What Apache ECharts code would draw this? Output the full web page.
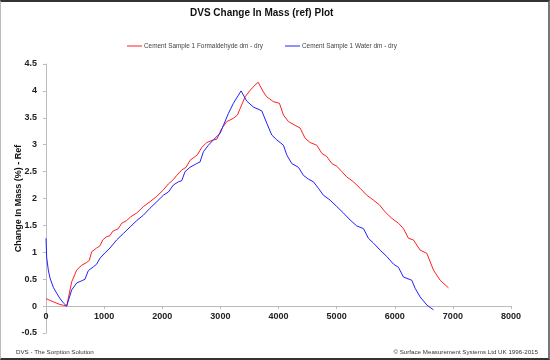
<!DOCTYPE html>
<html><head><meta charset="utf-8">
<script src="https://cdn.jsdelivr.net/npm/echarts@6/dist/echarts.min.js"></script>
<style>
html,body{margin:0;padding:0;background:#fff;}
#frame{position:absolute;left:0;top:0;width:550px;height:360px;box-sizing:border-box;border-top:2px solid #333;border-bottom:2px solid #333;border-left:1px solid #bbb;border-right:2px solid #777;}
#c{position:absolute;left:0;top:0;width:550px;height:360px;}
</style></head>
<body>
<div id="c"></div><div id="frame"></div>
<script>
const xTicks = [0,1000,2000,3000,4000,5000,6000,7000,8000];
const yTicks = [-0.5,0,0.5,1,1.5,2,2.5,3,3.5,4,4.5];
const seriesNames = ['Cement Sample 1 Formaldehyde dm - dry','Cement Sample 1 Water dm - dry'];

const formTime = [0,60,126,241,300,356,442,528,614,700,745,786,872,929,975,1044,1101,1147,1245,1302,1388,1457,1561,1675,1790,1905,2019,2105,2191,2249,2335,2410,2478,2564,2604,2680,2766,2880,2938,3024,3110,3224,3293,3339,3425,3511,3597,3650,3740,3798,3912,4016,4085,4171,4286,4372,4458,4544,4659,4745,4831,4917,5003,5089,5175,5290,5404,5519,5634,5737,5835,5950,6064,6150,6236,6322,6437,6552,6580,6666,6781,6924];
const formMass = [0.14,0.11,0.08,0.03,0.015,0,0.45,0.67,0.76,0.81,0.85,1.01,1.08,1.12,1.23,1.29,1.31,1.39,1.44,1.54,1.59,1.66,1.73,1.85,1.94,2.04,2.16,2.27,2.35,2.43,2.53,2.58,2.71,2.78,2.81,2.95,3.04,3.09,3.10,3.30,3.43,3.49,3.55,3.67,3.89,4.01,4.11,4.16,3.98,3.89,3.80,3.77,3.55,3.43,3.36,3.31,3.12,3.04,2.99,2.84,2.78,2.65,2.60,2.50,2.40,2.31,2.19,2.06,1.97,1.88,1.75,1.63,1.54,1.44,1.26,1.23,1.04,0.98,0.95,0.67,0.48,0.34];

const waterTime = [0,12,40,69,126,184,241,298,356,442,528,614,671,728,814,872,929,1015,1101,1216,1331,1446,1561,1675,1790,1905,2019,2105,2191,2277,2335,2392,2478,2593,2650,2708,2794,2880,2995,3052,3138,3224,3310,3356,3454,3568,3712,3798,3884,3970,4085,4142,4228,4343,4429,4515,4601,4687,4773,4888,5003,5117,5232,5347,5462,5547,5634,5749,5864,5978,6064,6150,6294,6351,6437,6552,6666];
const waterMass = [1.26,0.90,0.67,0.52,0.35,0.24,0.14,0.06,0,0.30,0.43,0.47,0.50,0.66,0.73,0.78,0.89,0.99,1.08,1.23,1.35,1.47,1.59,1.69,1.82,1.94,2.06,2.12,2.25,2.31,2.33,2.50,2.58,2.65,2.68,2.87,2.99,3.09,3.21,3.36,3.58,3.77,3.92,4.00,3.81,3.70,3.63,3.40,3.18,3.09,2.99,2.81,2.65,2.58,2.43,2.36,2.31,2.19,2.06,1.97,1.85,1.73,1.60,1.49,1.44,1.26,1.17,1.04,0.92,0.78,0.72,0.54,0.48,0.33,0.17,0.02,-0.07];

const pair = (t, m) => t.map((x, i) => [x, m[i]]);
const chart = echarts.init(document.getElementById('c'), null, {renderer:'canvas'});
const axisFont = {fontFamily:'Liberation Sans', fontWeight:'bold', fontSize:9, color:'#222'};
chart.setOption({
  animation:false,
  backgroundColor:'#fff',
  title:{text:'DVS Change In Mass (ref) Plot', left:185, top:3,
    textStyle:{fontFamily:'Liberation Sans', fontWeight:'bold', fontSize:10, color:'#111'}},
  legend:{top:38, left:122, icon:'rect', itemWidth:15, itemHeight:1, itemGap:22,
    textStyle:{fontFamily:'Liberation Sans', fontSize:6.4, color:'#444', padding:[0,0,0,-3]},
    data:seriesNames},
  graphic:[
    {type:'text', left:16, top:349, style:{text:'DVS - The Sorption Solution', font:'6.2px Liberation Sans', fill:'#333'}},
    {type:'text', right:12, top:349, style:{text:'\u00a9 Surface Measurement Systems Ltd UK 1996-2015', font:'6.2px Liberation Sans', fill:'#333'}}
  ],
  grid:{left:46, right:39, top:64, bottom:27, outerBoundsMode:'none', containLabel:false},
  xAxis:{type:'value', min:xTicks[0], max:xTicks[xTicks.length-1], interval:1000,
    name:'Time/mins', nameLocation:'middle', nameGap:33, nameMoveOverlap:false,
    nameTextStyle:{fontFamily:'Liberation Sans', fontWeight:'bold', fontSize:10, color:'#111'},
    axisLine:{onZero:true, lineStyle:{color:'#bbb', width:1}},
    axisTick:{show:true, length:3, lineStyle:{color:'#bbb'}},
    axisLabel:{...axisFont, margin:-21, formatter:v => String(v)},
    splitLine:{show:false}},
  yAxis:{type:'value', min:yTicks[0], max:yTicks[yTicks.length-1], interval:0.5,
    name:'Change In Mass (%) - Ref', nameLocation:'middle', nameGap:23, nameRotate:90, nameMoveOverlap:false,
    nameTextStyle:{fontFamily:'Liberation Sans', fontWeight:'bold', fontSize:9, color:'#111'},
    axisLine:{show:true, onZero:false, lineStyle:{color:'#bbb', width:1}},
    axisTick:{show:true, length:3, lineStyle:{color:'#bbb'}},
    axisLabel:{...axisFont, margin:9, formatter:v => String(v)},
    splitLine:{show:false}},
  series:[
    {name:seriesNames[0], type:'line', data:pair(formTime, formMass), showSymbol:false, symbol:'none',
      lineStyle:{color:'#ff2020', width:1}, itemStyle:{color:'#ff2020'}},
    {name:seriesNames[1], type:'line', data:pair(waterTime, waterMass), showSymbol:false, symbol:'none',
      lineStyle:{color:'#2020ff', width:1}, itemStyle:{color:'#2020ff'}}
  ]
});
</script>
</body></html>
